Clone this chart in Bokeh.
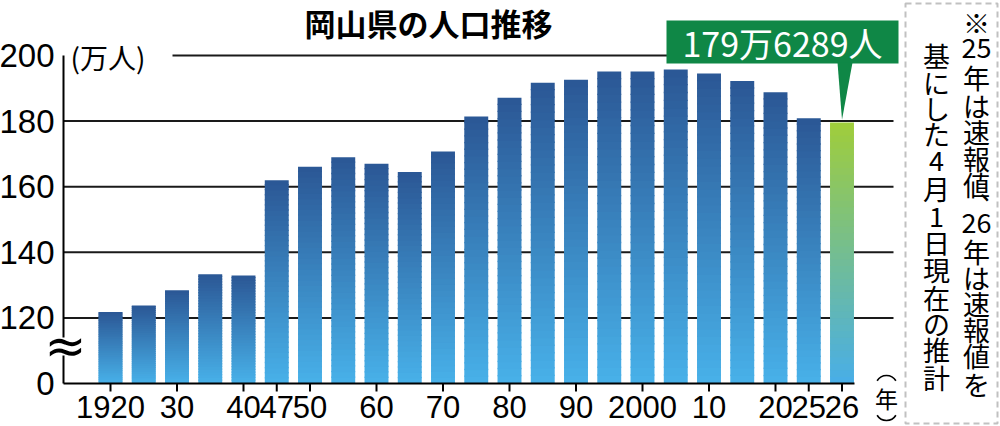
from bokeh.plotting import figure
from bokeh.models import Range1d, Label, BoxAnnotation, PolyAnnotation, ColumnDataSource
from bokeh.core.properties import value
from bokeh.embed import file_html
from bokeh.resources import INLINE
import math

# ---------------- data ----------------
years = ["1920", "25", "30", "35", "40", "47", "50", "55", "60", "65", "70", "75",
         "80", "85", "90", "95", "2000", "05", "10", "15", "20", "25", "26"]
population = [121.8, 123.8, 128.4, 133.3, 132.9, 162.0, 166.1, 169.0, 167.0, 164.5, 170.7, 181.4,
              187.1, 191.7, 192.6, 195.1, 195.1, 195.7, 194.5, 192.2, 188.8, 180.9, 179.6]
shown_ticks = [0, 2, 4, 5, 6, 8, 10, 12, 14, 16, 18, 20, 21, 22]
y_ticks = [100, 120, 140, 160, 180, 200]
y_tick_labels = ["0", "120", "140", "160", "180", "200"]
grid_values = [120, 140, 160, 180, 200]
title_text = "岡山県の人口推移"
unit_text = "(万人)"
callout_text = "179万6289人"
note_right = ["※", "25", "年", "は", "速", "報", "値", "︑", "26", "年", "は", "速", "報", "値", "を"]
note_left = ["基", "に", "し", "た", "4", "月", "1", "日", "現", "在", "の", "推", "計"]
year_unit = "年"

# ---------------- layout helpers ----------------
W, H = 1000, 426
FB = 383                  # pixel row of the baseline
XPU, YPU = 33.25, 3.28    # pixels per x unit / y unit
BAR0_PX = 110
X0 = -BAR0_PX / XPU


def dx(px):
    return X0 + px / XPU


def dy(py):
    return 100 + (FB - py) / YPU


p = figure(width=W, height=H, output_backend="svg", toolbar_location=None,
           x_axis_location=None, y_axis_location=None,
           x_range=Range1d(dx(0), dx(W)), y_range=Range1d(dy(H), dy(0)),
           min_border=0)
p.outline_line_color = None
p.xgrid.visible = False
p.ygrid.visible = False
p.background_fill_color = "white"
p.border_fill_color = "white"

NUM_FONT = value("Liberation Sans")
JP_FONT = "Noto Sans CJK JP"

# grid lines
gx0 = [dx(172) if g == 200 else dx(63) for g in grid_values]
p.segment(x0=gx0, x1=[dx(893)] * len(grid_values), y0=grid_values, y1=grid_values,
          line_color="#1a1a1a", line_width=2, level="underlay")

# bars with vertical gradient (drawn as thin slices)
N = 40
blue_top, blue_bot = (43, 87, 149), (72, 177, 233)
green_top, green_bot = (160, 205, 58), (72, 174, 232)
L, R, B, T, C = [], [], [], [], []
bw = 0.72
for i, v in enumerate(population):
    ct, cb = (green_top, green_bot) if i == len(population) - 1 else (blue_top, blue_bot)
    for k in range(N):
        y0 = 100 + (v - 100) * k / N
        y1 = 100 + (v - 100) * (k + 1) / N
        t = (k + 0.5) / N
        col = "#%02x%02x%02x" % tuple(round(b + (a - b) * t) for a, b in zip(ct, cb))
        L.append(i - bw / 2)
        R.append(i + bw / 2)
        B.append(y0)
        T.append(min(v, y1 + 0.4))
        C.append(col)
src = ColumnDataSource(dict(left=L, right=R, bottom=B, top=T, color=C))
p.quad(left="left", right="right", bottom="bottom", top="top", fill_color="color",
       line_color=None, source=src)

# y axis line with break, and y tick labels
p.segment(x0=[dx(63)] * 2, x1=[dx(63)] * 2, y0=[100, dy(337)], y1=[dy(355), 200],
          line_color="black", line_width=2)
p.text(x=[dx(65)], y=[dy(345)], text=["≈"], text_align="center", text_baseline="middle",
       text_font=value("DejaVu Sans"), text_font_size="50px", text_color="black")
p.text(x=[dx(54)] * len(y_ticks), y=y_ticks, text=y_tick_labels, text_align="right",
       text_baseline="middle", text_font=NUM_FONT, text_font_size="33px", text_color="black")

# x axis line, ticks and labels
p.segment(x0=[dx(63)], x1=[dx(854)], y0=[100], y1=[100], line_color="black", line_width=2)
p.segment(x0=shown_ticks, x1=shown_ticks, y0=[100] * len(shown_ticks), y1=[dy(391)] * len(shown_ticks),
          line_color="black", line_width=2)
p.text(x=shown_ticks, y=[dy(406)] * len(shown_ticks), text=[years[t] for t in shown_ticks],
       text_align="center", text_baseline="middle", text_font=NUM_FONT, text_font_size="31px",
       text_color="black")

# title and unit
p.add_layout(Label(x=dx(428), y=dy(22), text=title_text, text_align="center", text_baseline="middle",
                   text_font=JP_FONT, text_font_style="bold", text_font_size="31px",
                   text_color="black"))
p.add_layout(Label(x=dx(70), y=dy(56), text=unit_text, text_align="left", text_baseline="middle",
                   text_font=JP_FONT, text_font_size="28px", text_color="black"))

# callout
green = "#0f8746"
p.add_layout(BoxAnnotation(left=dx(666), right=dx(898), top=dy(20), bottom=dy(63),
                           fill_color=green, fill_alpha=1, line_color=None))
p.add_layout(PolyAnnotation(xs=[dx(837), dx(852), len(population) - 1],
                            ys=[dy(62), dy(62), population[-1] + 0.8],
                            fill_color=green, fill_alpha=1, line_color=None))
p.add_layout(Label(x=dx(782), y=dy(42), text=callout_text, text_align="center", text_baseline="middle",
                   text_font=JP_FONT, text_font_size="34px", text_color="white"))

# note box (vertical text)
p.add_layout(BoxAnnotation(left=dx(905), right=dx(997), top=dy(3), bottom=dy(423),
                           fill_color=None, fill_alpha=0, line_color="#333333", line_width=2,
                           line_dash="6 4"))
right_y = [22, 47, 77, 105, 131, 158, 184, 205, 222, 251, 277, 303, 329, 355, 384]
left_y = [55, 82, 108, 133, 160, 188, 216, 242, 269, 297, 323, 349, 377]
for ch, yy in zip(note_right, right_y):
    p.add_layout(Label(x=dx(976), y=dy(yy), text=ch, text_align="center", text_baseline="middle",
                       text_font=JP_FONT, text_font_size="27px", text_color="black"))
for ch, yy in zip(note_left, left_y):
    p.add_layout(Label(x=dx(936), y=dy(yy), text=ch, text_align="center", text_baseline="middle",
                       text_font=JP_FONT, text_font_size="27px", text_color="black"))

# (年) written vertically: arcs as the vertical parentheses around the character
p.arc(x=[dx(886), dx(886)], y=[dy(386), dy(409)], radius=11, radius_units="screen",
      start_angle=[0.55, math.pi + 0.55], end_angle=[math.pi - 0.55, 2 * math.pi - 0.55],
      line_color="black", line_width=1.6)
p.add_layout(Label(x=dx(886), y=dy(397), text=year_unit, text_align="center", text_baseline="middle",
                   text_font=JP_FONT, text_font_size="23px", text_color="black"))

open("out.html", "w").write(file_html(p, INLINE))
